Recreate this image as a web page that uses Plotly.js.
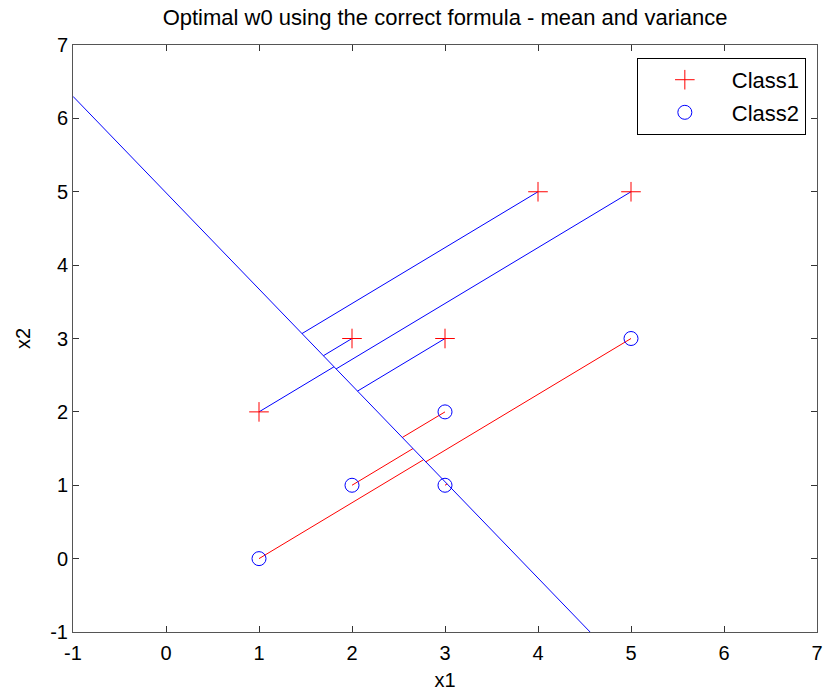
<!DOCTYPE html>
<html>
<head>
<meta charset="utf-8">
<script src="https://cdn.plot.ly/plotly-3.0.1.min.js"></script>
<style>html,body{margin:0;padding:0;background:#fff;}#chart{width:825px;height:691px;}</style>
</head>
<body>
<div id="chart"></div>
<script>
// Class 1 points
const class1X = [1, 2, 3, 4, 5];
const class1Y = [2, 3, 3, 5, 5];
// Class 2 points
const class2X = [1, 2, 3, 3, 5];
const class2Y = [0, 1, 1, 2, 3];
// Decision boundary
const boundaryX = [-1, 4.56];
const boundaryY = [6.3, -1];
// Projections of class 1 points onto the boundary
const proj1X = [1.807, 1.692, 2.059, 1.462, 1.829];
const proj1Y = [2.615, 2.765, 2.283, 3.067, 2.585];
// Projections of class 2 points onto the boundary
const proj2X = [2.771, 2.656, 3.023, 2.541, 2.793];
const proj2Y = [1.349, 1.500, 1.018, 1.651, 1.319];
// Tick values and labels
const tickVals = [-1, 0, 1, 2, 3, 4, 5, 6, 7];
const tickText = ['-1', '0', '1', '2', '3', '4', '5', '6', '7'];

const titleText = 'Optimal w0 using the correct formula - mean and variance';
const FONT = 'Liberation Sans, Arial, Helvetica, sans-serif';

function segments(xs, ys, px, py) {
  const sx = [], sy = [];
  for (let i = 0; i < xs.length; i++) {
    sx.push(xs[i], px[i], null);
    sy.push(ys[i], py[i], null);
  }
  return {x: sx, y: sy};
}
const s1 = segments(class1X, class1Y, proj1X, proj1Y);
const s2 = segments(class2X, class2Y, proj2X, proj2Y);

const traces = [
  {x: s1.x, y: s1.y, mode: 'lines', line: {color: '#0000ff', width: 1}, showlegend: false, hoverinfo: 'skip'},
  {x: s2.x, y: s2.y, mode: 'lines', line: {color: '#ff0000', width: 1}, showlegend: false, hoverinfo: 'skip'},
  {x: boundaryX, y: boundaryY, mode: 'lines', line: {color: '#0000ff', width: 1}, showlegend: false, hoverinfo: 'skip'},
  {x: class1X, y: class1Y, mode: 'markers', name: 'Class1', legendgroup: 'a',
   marker: {symbol: 'cross-thin-open', size: 14, color: '#ff0000', line: {color: '#ff0000', width: 1}}},
  {x: class2X, y: class2Y, mode: 'markers', name: 'Class2', legendgroup: 'b',
   marker: {symbol: 'circle-open', size: 14, color: '#0000ff', line: {color: '#0000ff', width: 1}}}
];

const axisCommon = {
  range: [-1, 7], tickmode: 'array', tickvals: tickVals, ticktext: tickText,
  showgrid: false, zeroline: false,
  showline: true, linecolor: '#555', linewidth: 1, mirror: 'ticks',
  ticks: 'inside', ticklen: 6, tickcolor: '#333', tickwidth: 1,
  tickfont: {family: FONT, size: 20, color: '#000'}
};

const layout = {
  width: 825, height: 691,
  margin: {l: 73, r: 8, t: 45, b: 59},
  paper_bgcolor: '#fff', plot_bgcolor: '#fff',
  font: {family: FONT, color: '#000'},
  title: {text: titleText, font: {family: FONT, size: 22, color: '#000'}, x: 0.5395, xanchor: 'center', y: 0.975, yanchor: 'middle'},
  xaxis: Object.assign({}, axisCommon, {ticklabelstandoff: 3, title: {text: 'x1', font: {family: FONT, size: 20}, standoff: 10}}),
  yaxis: Object.assign({}, axisCommon, {title: {text: 'x2', font: {family: FONT, size: 20}, standoff: 14}}),
  legend: {x: 0.985, xanchor: 'right', y: 0.978, yanchor: 'top', bgcolor: '#fff', bordercolor: '#000', borderwidth: 1,
           font: {family: FONT, size: 22, color: '#000'}, tracegroupgap: 1, itemwidth: 84},
  showlegend: true
};

Plotly.newPlot('chart', traces, layout, {displayModeBar: false, staticPlot: true});
</script>
</body>
</html>
